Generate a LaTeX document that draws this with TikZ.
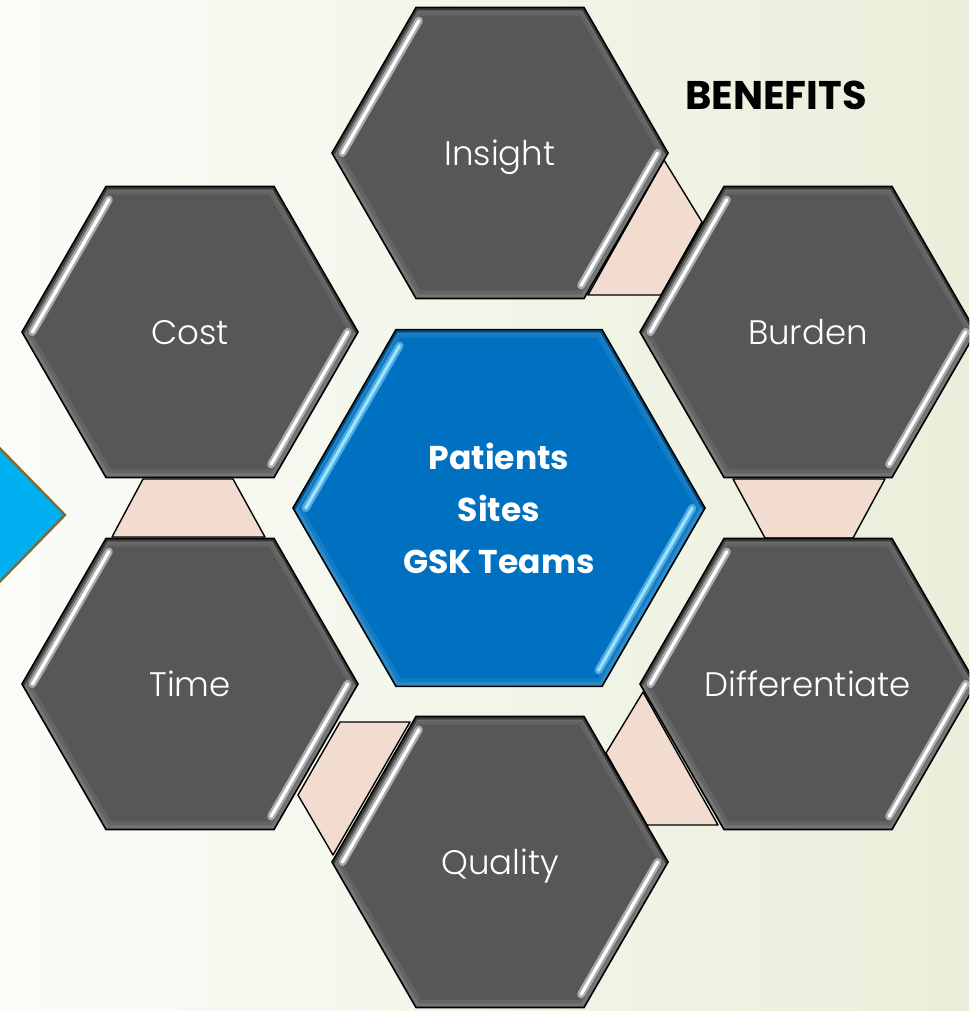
\documentclass[tikz,border=0pt]{standalone}
\usepackage{fontspec}
\setmainfont{Poppins}
\newfontfamily\thinfont{Poppins Light}

\definecolor{hexgray}{HTML}{575757}
\definecolor{hexblue}{HTML}{0070C0}
\definecolor{stripblue}{HTML}{9AE2FF}
\definecolor{linkpink}{HTML}{F2DBCF}
\definecolor{arrowcyan}{HTML}{00B0F0}
\definecolor{arrowrim}{HTML}{7F6A35}
\definecolor{bgleft}{HTML}{FBFCF8}
\definecolor{bgright}{HTML}{E9EFDA}

\begin{document}
\begin{tikzpicture}[x=0.5pt,y=-0.5pt,
  link/.style={fill=linkpink,draw=black,line width=0.7pt,line join=round},
  outerlabel/.style={text=white,font=\thinfont\fontsize{17}{20}\selectfont,text height=12pt,text depth=0pt},
  centerlabel/.style={text=white,font=\bfseries\fontsize{16.5}{26}\selectfont,align=center}]

\useasboundingbox (0,0) rectangle (969,1011);
\clip (0,0) rectangle (969,1011);
\shade[left color=bgleft,right color=bgright] (0,0) rectangle (969,1011);

% arrow at the left border
\draw[fill=arrowcyan,draw=arrowrim,line width=1.2pt,line join=miter] (-20,428)--(65,515)--(-20,602);

% links between the outer cells
\draw[link] (664,160)--(702,222)--(661,295)--(588,295)--cycle;
\draw[link] (733,479)--(885,479)--(853,538)--(765,538)--cycle;
\draw[link] (643,692)--(718,825)--(647,825)--(606,753)--cycle;
\draw[link] (410,722)--(333,855)--(298,795)--(340,722)--cycle;
\draw[link] (143,479)--(233,479)--(265,537)--(112,537)--cycle;

% #1 name, #2 #3 centre, #4 radius, #5 body, #6 strip, #7 text, #8 label style
\def\hexa#1#2#3#4#5#6#7#8{
  \begin{scope}[shift={(#2,#3)}]
    \begin{scope}
      \clip (0:#4) \foreach \w in {60,120,...,300}{--(\w:#4)} --cycle;
      \fill[#5] (-#4,-#4) rectangle (#4,#4);
      \draw[#5!92!white,line width=8pt] (0:#4) \foreach \w in {60,120,...,300}{--(\w:#4)} --cycle;
      \draw[#5!82!white,line width=4pt] (0:#4) \foreach \w in {60,120,...,300}{--(\w:#4)} --cycle;
      \draw[#5!70!black,line width=3pt] (-180:#4)--(240:#4)--(300:#4)--(0:#4);
    \end{scope}
    \draw[black,line width=0.8pt,line join=miter] (0:#4) \foreach \w in {60,120,...,300}{--(\w:#4)} --cycle;
    \draw[#6!50!#5,line width=4pt,line cap=round] ({-0.938*#4},0)--({-0.483*#4},{-0.788*#4});
    \draw[#6,line width=1.6pt,line cap=round] ({-0.938*#4},0)--({-0.483*#4},{-0.788*#4});
    \draw[#6!50!#5,line width=4pt,line cap=round] ({0.938*#4},0)--({0.483*#4},{0.788*#4});
    \draw[#6,line width=1.6pt,line cap=round] ({0.938*#4},0)--({0.483*#4},{0.788*#4});
    \node[#8] (#1) at (0,0) {#7};
  \end{scope}
}

\hexa{insight}{500}{153}{168}{hexgray}{white}{Insight}{outerlabel}
\hexa{cost}{190}{332}{168}{hexgray}{white}{Cost}{outerlabel}
\hexa{burden}{808}{332}{168}{hexgray}{white}{Burden}{outerlabel}
\hexa{time}{190}{684}{168}{hexgray}{white}{Time}{outerlabel}
\hexa{differ}{808}{684}{168}{hexgray}{white}{Differentiate}{outerlabel}
\hexa{quality}{500}{862}{168}{hexgray}{white}{Quality}{outerlabel}
\hexa{people}{499}{508}{206}{hexblue}{stripblue}{Patients\\Sites\\GSK Teams}{centerlabel}

\node[font=\bfseries\fontsize{20}{24}\selectfont,anchor=base] (benefits) at (776,110) {BENEFITS};

\end{tikzpicture}
\end{document}
